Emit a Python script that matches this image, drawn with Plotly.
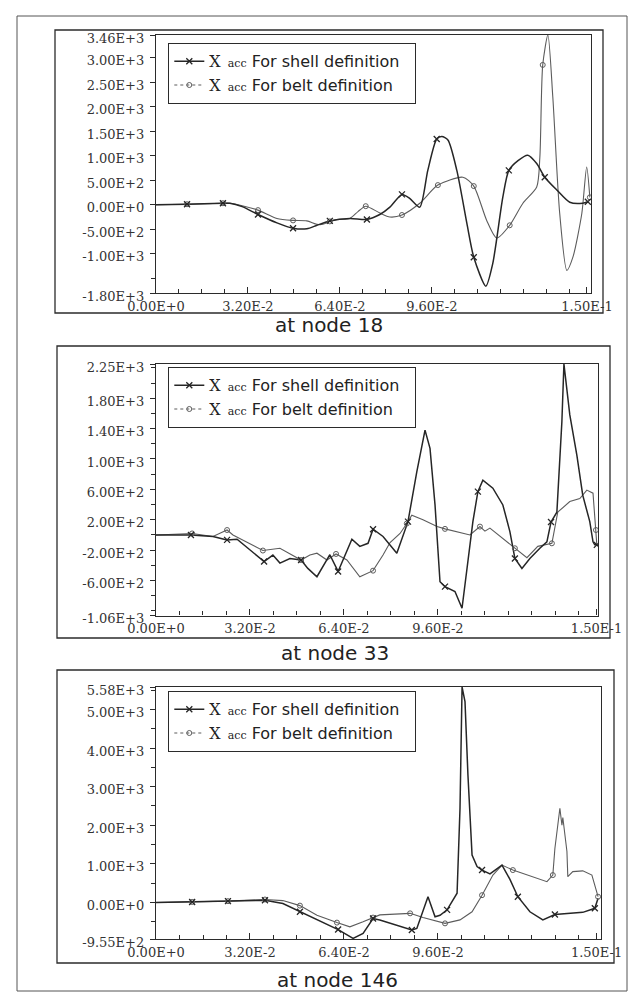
import plotly.graph_objects as go

W, H = 637, 994

# ---------------- data (time in s, X acceleration) ----------------
# node 18
T1_SHELL = [0, 0.0108, 0.0233, 0.0257, 0.0300, 0.0355, 0.0421, 0.0477, 0.0525, 0.0560, 0.0605, 0.0675,
            0.0734, 0.0779, 0.0814, 0.0856, 0.0883, 0.0918, 0.0946, 0.0977, 0.0995, 0.1016, 0.1047, 0.1082,
            0.1106, 0.1148, 0.1172, 0.1207, 0.1228, 0.1260, 0.1294, 0.1325, 0.1353, 0.1395, 0.1440, 0.1485, 0.1503]
V1_SHELL = [0, 10, 30, 30, -40, -200, -370, -480, -490, -420, -330, -280,
            -300, -200, -50, 210, 130, -50, 700, 1340, 1390, 1320, 700, -380,
            -1070, -1660, -1200, 150, 700, 900, 1010, 840, 560, 300, 50, 30, 60]
T1_BELT = [0, 0.0108, 0.0233, 0.0257, 0.0300, 0.0355, 0.0421, 0.0477, 0.0525, 0.0560, 0.0581, 0.0605,
           0.0630, 0.0675, 0.0703, 0.0730, 0.0779, 0.0814, 0.0856, 0.0918, 0.0981, 0.1068, 0.1106, 0.1151,
           0.1186, 0.1231, 0.1277, 0.1325, 0.1336, 0.1346, 0.1364, 0.1381, 0.1405, 0.1430, 0.1451, 0.1482,
           0.1499, 0.1510]
V1_BELT = [0, 10, 30, 30, -20, -110, -280, -320, -330, -400, -400, -340,
           -300, -280, -140, -30, -170, -250, -210, 30, 400, 560, 380, -320,
           -680, -420, 30, 360, 970, 2850, 3460, 2200, -170, -1340, -1070, -180,
           770, 150]

# node 33
T2_SHELL = [0, 0.0119, 0.0194, 0.0242, 0.0276, 0.0320, 0.0368, 0.0398, 0.0422, 0.0456, 0.0494, 0.0517,
            0.0548, 0.0592, 0.0620, 0.0667, 0.0694, 0.0722, 0.0739, 0.0773, 0.0820, 0.0858, 0.0888, 0.0916,
            0.0933, 0.0950, 0.0967, 0.0984, 0.1018, 0.1042, 0.1059, 0.1079, 0.1096, 0.1113, 0.1147, 0.1181,
            0.1205, 0.1222, 0.1246, 0.1273, 0.1307, 0.1331, 0.1345, 0.1365, 0.1382, 0.1389, 0.1409, 0.1433,
            0.1453, 0.1477, 0.1488, 0.1494, 0.1501]
V2_SHELL = [0, 0, -20, -65, -57, -200, -350, -265, -370, -310, -330, -440,
            -550, -260, -480, -57, -150, -110, 75, -20, -240, 175, 830, 1380,
            1140, 400, -615, -680, -745, -965, -440, 175, 570, 720, 615, 395,
            45, -310, -440, -310, -175, -90, 170, 300, 1490, 2250, 1580, 1050,
            525, 175, -90, -130, -130]
T2_BELT = [0, 0.0123, 0.0194, 0.0242, 0.0262, 0.0296, 0.0364, 0.0422, 0.0494, 0.0524, 0.0548, 0.0582,
           0.0613, 0.0650, 0.0694, 0.0739, 0.0773, 0.0797, 0.0831, 0.0854, 0.0871, 0.0909, 0.0957, 0.0984,
           0.1025, 0.1069, 0.1103, 0.1120, 0.1137, 0.1181, 0.1222, 0.1263, 0.1300, 0.1348, 0.1368, 0.1409,
           0.1443, 0.1467, 0.1488, 0.1498, 0.1501]
V2_BELT = [0, 20, -20, 65, 0, -65, -205, -175, -330, -265, -240, -330,
           -250, -330, -550, -470, -265, -100, 20, 150, 260, 200, 110, 80,
           45, 0, 110, 50, 90, -45, -175, -300, -150, -110, 300, 440,
           480, 590, 550, 65, -130]

# node 146
T3_SHELL = [0, 0.0123, 0.0245, 0.0371, 0.0432, 0.0490, 0.0548, 0.0620, 0.0671, 0.0705, 0.0739, 0.0762,
            0.0871, 0.0888, 0.0926, 0.0950, 0.0967, 0.0991, 0.1025, 0.1035, 0.1042, 0.1052, 0.1062, 0.1076,
            0.1093, 0.1110, 0.1137, 0.1178, 0.1205, 0.1232, 0.1273, 0.1317, 0.1358, 0.1409, 0.1453, 0.1494, 0.1505]
V3_SHELL = [0, 15, 35, 60, -25, -240, -440, -700, -930, -800, -415, -455,
            -710, -670, 150, -370, -330, -190, 240, 2440, 5580, 5200, 3300, 1230,
            930, 840, 740, 970, 600, 150, -240, -450, -310, -280, -255, -150, 110]
T3_BELT = [0, 0.0123, 0.0245, 0.0371, 0.0432, 0.0490, 0.0548, 0.0616, 0.0660, 0.0705, 0.0739, 0.0762,
           0.0865, 0.0909, 0.0984, 0.1035, 0.1076, 0.1110, 0.1147, 0.1178, 0.1215, 0.1239, 0.1283, 0.1331,
           0.1351, 0.1358, 0.1375, 0.1382, 0.1385, 0.1399, 0.1402, 0.1419, 0.1453, 0.1484, 0.1505]
V3_BELT = [0, 15, 35, 78, 50, -80, -330, -520, -630, -500, -390, -320,
           -280, -390, -540, -450, -240, 190, 710, 970, 840, 780, 670, 540,
           710, 1400, 2440, 2000, 2200, 1320, 670, 800, 820, 710, 150]

# times at which the plotting program drew its symbols
MARK_T1 = [0.0108, 0.0233, 0.0355, 0.0477, 0.0605, 0.0730, 0.0856, 0.0978, 0.1106, 0.1230, 0.1350, 0.1505]
MARK_T23 = [0.0119, 0.0245, 0.0368, 0.0494, 0.0616, 0.0739, 0.0861, 0.0984, 0.1103, 0.1225, 0.1348, 0.1498]

X_TICKS = [0, 0.032, 0.064, 0.096, 0.15]
X_TICKTEXT = ["0.00E+0", "3.20E-2", "6.40E-2", "9.60E-2", "1.50E-1"]

Y1_TICKS = [3460, 3000, 2500, 2000, 1500, 1000, 500, 0, -500, -1000, -1800]
Y1_TEXT = ["3.46E+3", "3.00E+3", "2.50E+3", "2.00E+3", "1.50E+3", "1.00E+3", "5.00E+2", "0.00E+0",
           "-5.00E+2", "-1.00E+3", "-1.80E+3"]
Y2_TICKS = [2250, 1800, 1400, 1000, 600, 200, -200, -600, -1060]
Y2_TEXT = ["2.25E+3", "1.80E+3", "1.40E+3", "1.00E+3", "6.00E+2", "2.00E+2", "-2.00E+2", "-6.00E+2", "-1.06E+3"]
Y3_TICKS = [5580, 5000, 4000, 3000, 2000, 1000, 0, -955]
Y3_TEXT = ["5.58E+3", "5.00E+3", "4.00E+3", "3.00E+3", "2.00E+3", "1.00E+3", "0.00E+0", "-9.55E+2"]

TITLES = ["at node 18", "at node 33", "at node 146"]
SHELL_NAME = "For shell definition"
BELT_NAME = "For belt definition"

# ---------------- layout helpers (pixel geometry) ----------------
PANELS = [
    dict(ts=T1_SHELL, vs=V1_SHELL, tb=T1_BELT, vb=V1_BELT, marks=MARK_T1,
         px=(156, 591), py=(35, 293), xmax=0.1514, yr=(-1800, 3460),
         yt=Y1_TICKS, ytt=Y1_TEXT, ydt=500, shape="spline",
         frame=(55, 30, 603, 313), title_xy=(329, 325), leg=(168, 43)),
    dict(ts=T2_SHELL, vs=V2_SHELL, tb=T2_BELT, vb=V2_BELT, marks=MARK_T23,
         px=(156, 598), py=(364, 615.5), xmax=0.1505, yr=(-1060, 2250),
         yt=Y2_TICKS, ytt=Y2_TEXT, ydt=200, shape="linear",
         frame=(57, 346, 610, 638), title_xy=(335, 653), leg=(168, 367)),
    dict(ts=T3_SHELL, vs=V3_SHELL, tb=T3_BELT, vb=V3_BELT, marks=MARK_T23,
         px=(156, 601), py=(687, 939.4), xmax=0.1515, yr=(-955, 5580),
         yt=Y3_TICKS, ytt=Y3_TEXT, ydt=500, shape="linear",
         frame=(57, 670, 614, 963), title_xy=(337, 980), leg=(168, 691)),
]

AX = "#2b2b2b"
SHELL_C = "#262626"
BELT_C = "#5c5c5c"
TICKFONT = dict(family="DejaVu Serif", size=13, color="#333333")


def nearest(ts, t):
    return min(range(len(ts)), key=lambda i: abs(ts[i] - t))


def legname(txt):
    return ("<span style='font-family:DejaVu Serif;font-size:16px'>X</span>"
            "<span style='font-family:DejaVu Serif;font-size:11px'>&nbsp;&nbsp;acc</span> " + txt + "&nbsp;&nbsp;")


fig = go.Figure()
layout = dict(width=W, height=H, margin=dict(l=0, r=0, t=0, b=0, autoexpand=False),
              paper_bgcolor="white", plot_bgcolor="white", showlegend=True)
shapes, annotations = [], []

for k, p in enumerate(PANELS, start=1):
    sfx = "" if k == 1 else str(k)
    xa, ya = "x" + sfx, "y" + sfx
    xo, yo = k + 3, k + 3
    xdom = [p["px"][0] / W, p["px"][1] / W]
    ydom = [1 - p["py"][1] / H, 1 - p["py"][0] / H]

    line_shape = dict(shape=p["shape"])
    if p["shape"] == "spline":
        line_shape["smoothing"] = 0.7

    fig.add_trace(go.Scatter(x=p["tb"], y=p["vb"], mode="lines", xaxis=xa, yaxis=ya, showlegend=False,
                             line=dict(color=BELT_C, width=1.1, **line_shape), cliponaxis=True))
    fig.add_trace(go.Scatter(x=p["ts"], y=p["vs"], mode="lines", xaxis=xa, yaxis=ya, showlegend=False,
                             line=dict(color=SHELL_C, width=1.5, **line_shape), cliponaxis=True))
    ib = [nearest(p["tb"], t) for t in p["marks"]]
    is_ = [nearest(p["ts"], t) for t in p["marks"]]
    fig.add_trace(go.Scatter(x=[p["tb"][i] for i in ib], y=[p["vb"][i] for i in ib], mode="markers",
                             xaxis=xa, yaxis=ya, showlegend=False,
                             marker=dict(symbol="circle-open", size=5, color=BELT_C, line=dict(width=1))))
    fig.add_trace(go.Scatter(x=[p["ts"][i] for i in is_], y=[p["vs"][i] for i in is_], mode="markers",
                             xaxis=xa, yaxis=ya, showlegend=False,
                             marker=dict(symbol="x-thin", size=6, color=SHELL_C, line=dict(width=1.3, color=SHELL_C))))

    legkey = "legend" if k == 1 else f"legend{k}"
    fig.add_trace(go.Scatter(x=[None], y=[None], mode="lines+markers", name=legname(SHELL_NAME),
                             xaxis=xa, yaxis=ya, legend=legkey,
                             line=dict(color=SHELL_C, width=1.5),
                             marker=dict(symbol="x-thin", size=6, color=SHELL_C,
                                         line=dict(width=1.3, color=SHELL_C))))
    fig.add_trace(go.Scatter(x=[None], y=[None], mode="lines+markers", name=legname(BELT_NAME),
                             xaxis=xa, yaxis=ya, legend=legkey,
                             line=dict(color=BELT_C, width=1.1, dash="dot"),
                             marker=dict(symbol="circle-open", size=5, color=BELT_C, line=dict(width=1))))
    layout[legkey] = dict(x=p["leg"][0] / W, y=1 - p["leg"][1] / H, xanchor="left", yanchor="top",
                          bgcolor="white", bordercolor=AX, borderwidth=1.3,
                          font=dict(family="DejaVu Sans", size=16, color="#222222"),
                          tracegroupgap=0, itemwidth=30)

    xrange = [0, p["xmax"]]
    layout["xaxis" + sfx] = dict(domain=xdom, anchor=ya, range=xrange, showgrid=False, zeroline=False,
                                 showline=True, mirror=True, linecolor=AX, linewidth=1.3,
                                 tickmode="array", tickvals=X_TICKS, ticktext=X_TICKTEXT,
                                 ticks="inside", ticklen=6, tickcolor=AX, tickfont=TICKFONT,
                                 ticklabelstandoff=1,
                                 minor=dict(tickmode="linear", tick0=0, dtick=0.008, ticks="inside",
                                            ticklen=4, tickcolor=AX))
    layout["yaxis" + sfx] = dict(domain=ydom, anchor=xa, range=list(p["yr"]), showgrid=False, zeroline=False,
                                 showline=True, mirror=True, linecolor=AX, linewidth=1.3,
                                 tickmode="array", tickvals=p["yt"], ticktext=p["ytt"],
                                 ticks="outside", ticklen=5, tickcolor=AX, tickfont=TICKFONT,
                                 ticklabelstandoff=3, ticklabelshift=3,
                                 minor=dict(tickmode="linear", tick0=0, dtick=p["ydt"], ticks="outside",
                                            ticklen=4, tickcolor=AX))
    layout[f"xaxis{xo}"] = dict(overlaying=xa, side="top", anchor=ya, range=xrange, showgrid=False,
                                zeroline=False, showline=False, showticklabels=False,
                                tickmode="linear", tick0=0, dtick=0.008, ticks="inside", ticklen=4, tickcolor=AX)
    layout[f"yaxis{yo}"] = dict(overlaying=ya, side="right", anchor=xa, range=list(p["yr"]), showgrid=False,
                                zeroline=False, showline=False, showticklabels=False,
                                tickmode="linear", tick0=0, dtick=p["ydt"], ticks="inside", ticklen=4, tickcolor=AX)

    fx0, fy0, fx1, fy1 = p["frame"]
    shapes.append(dict(type="rect", xref="paper", yref="paper", x0=fx0 / W, x1=fx1 / W,
                       y0=1 - fy1 / H, y1=1 - fy0 / H, line=dict(color=AX, width=1.3)))
    annotations.append(dict(text=TITLES[k - 1], xref="paper", yref="paper",
                            x=p["title_xy"][0] / W, y=1 - p["title_xy"][1] / H,
                            xanchor="center", yanchor="middle", showarrow=False,
                            font=dict(family="DejaVu Sans", size=20, color="#222222")))

# page border of the scanned sheet
shapes.append(dict(type="rect", xref="paper", yref="paper", x0=17 / W, x1=627 / W,
                   y0=1 - 991 / H, y1=1 - 16 / H, line=dict(color="#555555", width=1)))

layout["shapes"] = shapes
layout["annotations"] = annotations
fig.update_layout(**layout)
fig.write_html("out.html", config={"displayModeBar": False},
               post_script="document.body.style.margin='0px';document.body.style.overflow='hidden';")
